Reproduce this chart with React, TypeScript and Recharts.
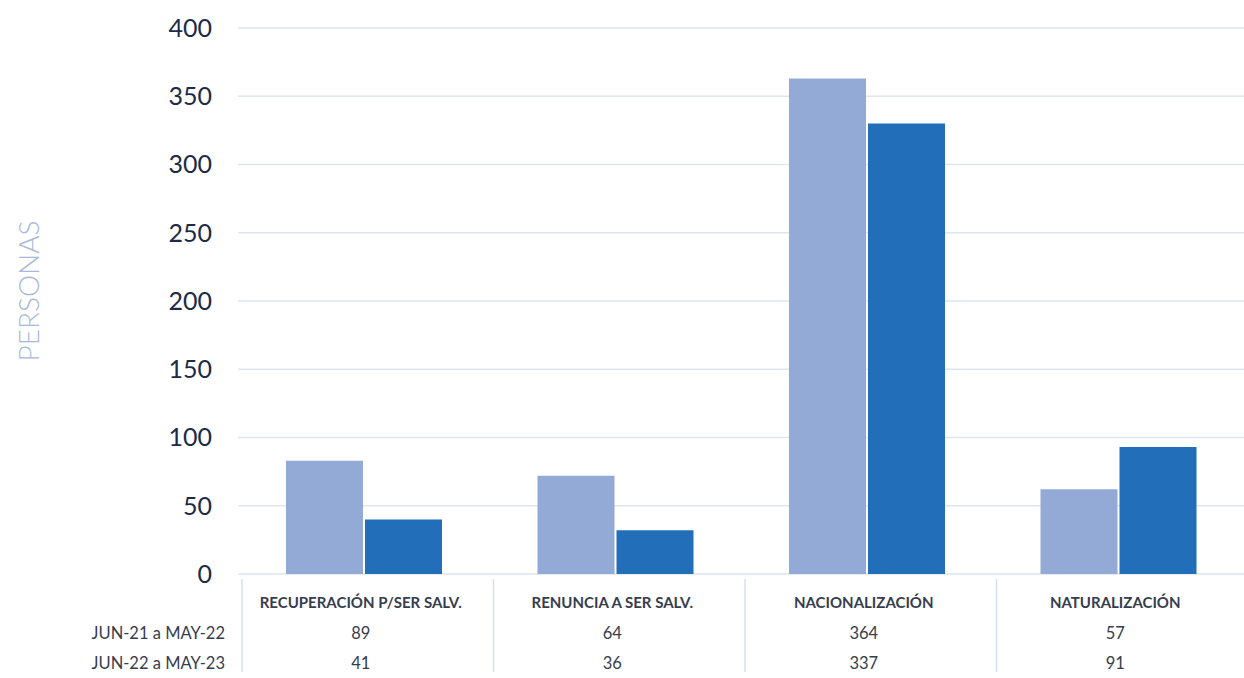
import { BarChart, Bar, XAxis, YAxis, CartesianGrid } from "recharts"

const categories = ["RECUPERACIÓN P/SER SALV.", "RENUNCIA A SER SALV.", "NACIONALIZACIÓN", "NATURALIZACIÓN"]
const periods = ["JUN-21 a MAY-22", "JUN-22 a MAY-23"]
// bar heights as drawn in the picture
const barsP1 = [83, 72, 363, 62]
const barsP2 = [40, 32, 330, 93]
// values printed in the data table under the chart
const tableP1 = [89, 64, 364, 57]
const tableP2 = [41, 36, 337, 91]
const yTicks = [0, 50, 100, 150, 200, 250, 300, 350, 400]

const W = 1244
const H = 678
const PLOT_LEFT = 238
const BAND = (W - PLOT_LEFT) / categories.length
const FONT = "Lato, 'Open Sans', sans-serif"
const TEXT = "#363d4e"

const data = categories.map((name, i) => ({
  name,
  p1: barsP1[i],
  p2: barsP2[i],
  t1: tableP1[i],
  t2: tableP2[i],
}))

function TableTick(props: any) {
  const { x, y, payload, index } = props
  const row = data[index]
  const left = x - BAND / 2
  return (
    <g>
      <line x1={left + 4} x2={left + 4} y1={y + 5} y2={y + 98} stroke="#d8e0ea" strokeWidth={1.5} />
      <text x={x - 3} y={y + 28} textAnchor="middle" dominantBaseline="central" fontSize={15} fontWeight={700} fill={TEXT} fontFamily={FONT}>
        {payload.value}
      </text>
      <text x={x - 3} y={y + 59} textAnchor="middle" dominantBaseline="central" fontSize={16.5} fill={TEXT} fontFamily={FONT}>
        {row ? row.t1 : ""}
      </text>
      <text x={x - 3} y={y + 89} textAnchor="middle" dominantBaseline="central" fontSize={16.5} fill={TEXT} fontFamily={FONT}>
        {row ? row.t2 : ""}
      </text>
      {index === 0 && (
        <>
          <text x={left - 13} y={y + 59} textAnchor="end" dominantBaseline="central" fontSize={16.5} fill={TEXT} fontFamily={FONT}>
            {periods[0]}
          </text>
          <text x={left - 13} y={y + 89} textAnchor="end" dominantBaseline="central" fontSize={16.5} fill={TEXT} fontFamily={FONT}>
            {periods[1]}
          </text>
        </>
      )}
    </g>
  )
}

const AxisTitle = () => (
  <text
    x={28}
    y={291}
    transform="rotate(-90 28 291)"
    textAnchor="middle"
    dominantBaseline="central"
    fontSize={28}
    fontWeight={300}
    fill="#a8b8da"
    fontFamily={FONT}
  >
    PERSONAS
  </text>
)

export default function App() {
  return (
    <div style={{ position: "fixed", left: 0, top: 0, width: W, height: H, background: "#fff" }}>
      <BarChart
        width={W}
        height={H}
        data={data}
        margin={{ top: 28, right: 0, left: 0, bottom: 0 }}
        barGap={2}
        barSize={77}
      >
        <CartesianGrid vertical={false} stroke="#dde5ef" strokeWidth={1.5} />
        <XAxis
          dataKey="name"
          axisLine={false}
          tickLine={false}
          tickSize={0}
          tickMargin={0}
          height={104}
          interval={0}
          tick={<TableTick />}
        />
        <YAxis
          width={PLOT_LEFT}
          domain={[0, 400]}
          ticks={yTicks}
          axisLine={false}
          tickLine={false}
          tickMargin={20}
          tick={{ fontSize: 25, fill: "#1b2b48", fontFamily: FONT }}
          label={<AxisTitle />}
        />
        <Bar dataKey="p1" fill="#93aad7" isAnimationActive={false} />
        <Bar dataKey="p2" fill="#236eb8" isAnimationActive={false} />
      </BarChart>
    </div>
  )
}
